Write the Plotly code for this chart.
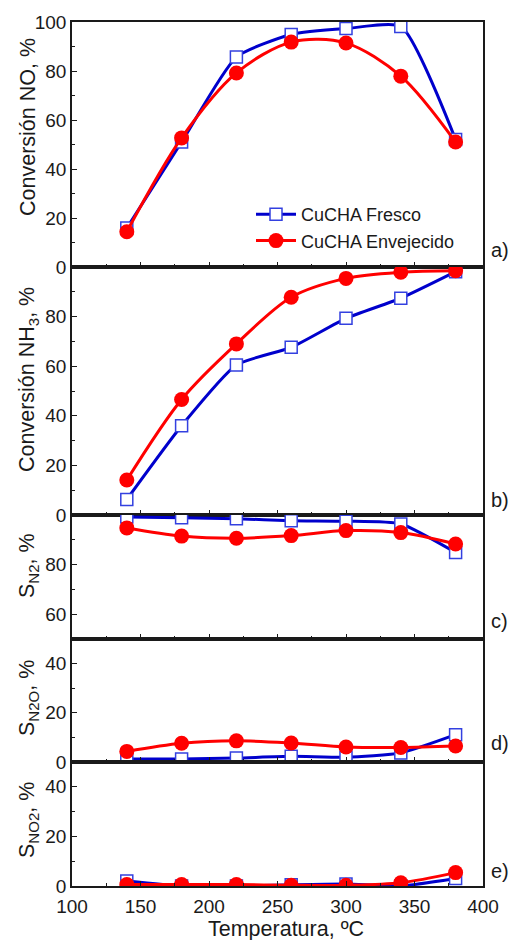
import plotly.graph_objects as go

# Reaction temperature, ºC
temperatura = [140, 180, 220, 260, 300, 340, 380]

# a) NO conversion, %
no_fresco = [15.9, 51.0, 85.7, 94.9, 97.3, 98.2, 52.0]
no_envejecido = [14.4, 52.7, 79.2, 91.8, 91.4, 77.9, 51.0]

# b) NH3 conversion, %
nh3_fresco = [6.3, 36.0, 60.5, 67.6, 79.3, 87.4, 98.1]
nh3_envejecido = [14.1, 46.6, 69.0, 87.8, 95.4, 97.9, 98.5]

# c) N2 selectivity, %
sn2_fresco = [99.2, 98.9, 98.5, 97.7, 97.5, 96.4, 84.9]
sn2_envejecido = [94.8, 91.5, 90.6, 91.7, 93.7, 92.9, 88.3]

# d) N2O selectivity, %
sn2o_fresco = [1.2, 1.2, 1.6, 2.3, 1.9, 3.7, 11.1]
sn2o_envejecido = [4.3, 7.6, 8.6, 7.7, 6.1, 5.9, 6.5]

# e) NO2 selectivity, %
sno2_fresco = [2.0, 0.0, 0.0, 0.5, 0.8, 0.0, 3.0]
sno2_envejecido = [0.6, 0.6, 0.6, 0.3, 0.3, 1.3, 5.4]

# y-axis tick labels per panel
ticks_a = [0, 20, 40, 60, 80, 100]
ticks_b = [0, 20, 40, 60, 80]
ticks_c = [60, 80]
ticks_de = [0, 20, 40]

series_names = ["CuCHA Fresco", "CuCHA Envejecido"]
panel_labels = ["a)", "b)", "c)", "d)", "e)"]
y_titles = [
    "Conversión NO, %",
    "Conversión NH<sub>3</sub>, %",
    "S<sub>N2</sub>, %",
    "S<sub>N2O</sub>, %",
    "S<sub>NO2</sub>, %",
]
x_title = "Temperatura, ºC"

panels = [
    (no_fresco, no_envejecido, [0, 100], ticks_a, 10),
    (nh3_fresco, nh3_envejecido, [0, 100], ticks_b, 10),
    (sn2_fresco, sn2_envejecido, [50, 100], ticks_c, 10),
    (sn2o_fresco, sn2o_envejecido, [0, 50], ticks_de, 10),
    (sno2_fresco, sno2_envejecido, [0, 50], ticks_de, 10),
]

W, H = 510, 940
L, R, T, B = 72, 27, 22, 54
plot_w = W - L - R
plot_h = H - T - B
# pixel rows at which the stacked panels meet
edges = [22, 267, 515, 639, 762, 886]


def px(x):
    return (x - L) / plot_w


def py(y):
    return (H - B - y) / plot_h


FONT = "Arial, Liberation Sans, sans-serif"
BLUE = "#0000CC"
RED = "#FF0000"
AXIS = "#1a1a1a"
TICK_SIZE = 19
TITLE_SIZE = 21.5

fig = go.Figure()
layout = dict(
    width=W,
    height=H,
    margin=dict(l=L, r=R, t=T, b=B),
    paper_bgcolor="white",
    plot_bgcolor="white",
    font=dict(family=FONT, size=18, color="#1a1a1a"),
    showlegend=True,
    legend=dict(
        x=px(251), y=py(196), xanchor="left", yanchor="top",
        bgcolor="rgba(0,0,0,0)", font=dict(size=18), tracegroupgap=0,
        itemwidth=40,
    ),
    annotations=[],
)

for i, (fres, env, yr, tv, mdt) in enumerate(panels):
    n = "" if i == 0 else str(i + 1)
    xa, ya = "x" + n, "y" + n
    dom = [py(edges[i + 1]), py(edges[i])]
    fig.add_trace(go.Scatter(
        x=temperatura, y=fres, xaxis=xa, yaxis=ya, name=series_names[0],
        mode="lines+markers", line=dict(color=BLUE, width=3, shape="spline", smoothing=0.55),
        marker=dict(symbol="square", size=12, color="white", line=dict(color="#3340E0", width=1.5)),
        showlegend=(i == 0),
    ))
    fig.add_trace(go.Scatter(
        x=temperatura, y=env, xaxis=xa, yaxis=ya, name=series_names[1],
        mode="lines+markers", line=dict(color=RED, width=3, shape="spline", smoothing=0.9),
        marker=dict(symbol="circle", size=15, color=RED),
        showlegend=(i == 0),
    ))
    minor_vals = [v for v in range(yr[0], yr[1] + 1, mdt) if v not in tv]
    layout["xaxis" + n] = dict(
        domain=[0, 1], anchor=ya, range=[100, 400], dtick=50, tick0=100,
        showline=True, linecolor=AXIS, linewidth=1.5, mirror=True,
        ticks="inside", ticklen=5, tickwidth=1.2, tickcolor=AXIS,
        minor=dict(dtick=25, ticks="inside", ticklen=3, tickwidth=1.2, tickcolor=AXIS),
        showgrid=False, zeroline=False, showticklabels=(i == 4),
        tickfont=dict(size=TICK_SIZE), ticklabelstandoff=2,
        **({} if i == 0 else {"matches": "x"}),
    )
    layout["yaxis" + n] = dict(
        domain=dom, anchor=xa, range=yr, tickmode="array", tickvals=tv,
        showline=True, linecolor=AXIS, linewidth=1.5, mirror=True,
        ticks="inside", ticklen=5, tickwidth=1.2, tickcolor=AXIS,
        minor=dict(tickmode="array", tickvals=minor_vals, ticks="inside",
                   ticklen=3, tickwidth=1.2, tickcolor=AXIS),
        showgrid=False, zeroline=False, tickfont=dict(size=TICK_SIZE),
    )

# y-axis titles, centred slightly above each panel's middle
title_centres = [127, 380, 566, 698, 820]
for yc, txt in zip(title_centres, y_titles):
    layout["annotations"].append(dict(
        text=txt, x=px(28), y=py(yc), xref="paper", yref="paper",
        xanchor="center", yanchor="middle", textangle=-90, showarrow=False,
        font=dict(size=TITLE_SIZE),
    ))

# panel letters on the right
label_rows = [250, 500, 621, 743, 871]
for yc, txt in zip(label_rows, panel_labels):
    layout["annotations"].append(dict(
        text=txt, x=px(489), y=py(yc), xref="paper", yref="paper",
        xanchor="left", yanchor="middle", showarrow=False, font=dict(size=20),
    ))

layout["annotations"].append(dict(
    text=x_title, x=px(286), y=py(929), xref="paper", yref="paper",
    xanchor="center", yanchor="middle", showarrow=False, font=dict(size=TITLE_SIZE),
))

fig.update_layout(**layout)
fig.write_html("out.html")
